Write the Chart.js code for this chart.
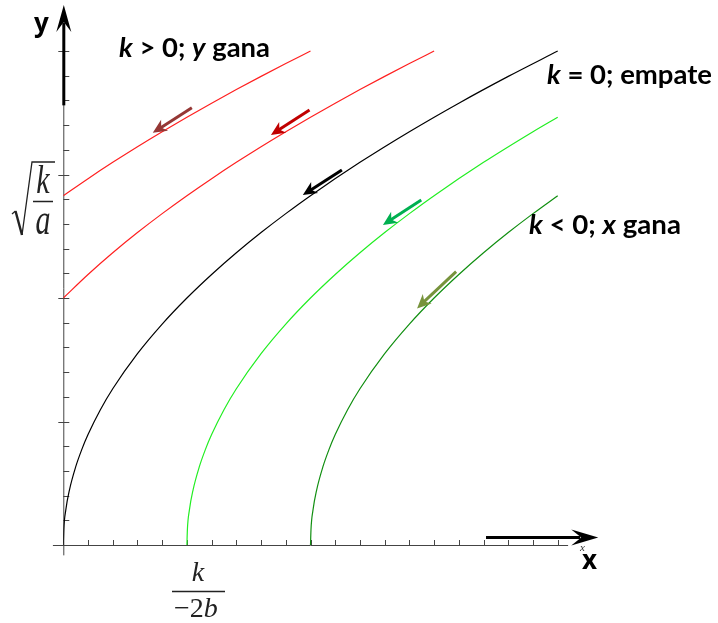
<!DOCTYPE html>
<html>
<head>
<meta charset="utf-8">
<script src="https://cdn.jsdelivr.net/npm/chart.js@4.4.1/dist/chart.umd.min.js"></script>
<style>
  html, body { margin: 0; padding: 0; background: #fff; }
  canvas { display: block; }
</style>
</head>
<body>
<canvas id="lanchester" width="718" height="623"></canvas>
<script>
// Trajectories in the (x, y) plane, one pair of arrays per curve
const redUpperX = [0, 1, 2, 3, 4, 5, 6, 7, 8, 9, 10];
const redUpperY = [14.142, 14.832, 15.492, 16.125, 16.733, 17.321, 17.889, 18.439, 18.974, 19.494, 20];

const redLowerX = [0, 1, 2, 3, 4, 5, 6, 7, 8, 9, 10, 11, 12, 13, 14, 15];
const redLowerY = [10, 10.954, 11.832, 12.649, 13.416, 14.142, 14.832, 15.492, 16.125, 16.733, 17.321, 17.889, 18.439, 18.974, 19.494, 20];

const blackX = [0, 0.02, 0.1, 0.25, 0.5, 0.75, 1, 1.5, 2, 3, 4, 5, 6, 7, 8, 9, 10, 12, 14, 16, 18, 20];
const blackY = [0, 0.632, 1.414, 2.236, 3.162, 3.873, 4.472, 5.477, 6.325, 7.746, 8.944, 10, 10.954, 11.832, 12.649, 13.416, 14.142, 15.492, 16.733, 17.889, 18.974, 20];

const greenX = [5, 5.02, 5.1, 5.25, 5.5, 5.75, 6, 6.5, 7, 8, 9, 10, 11, 12, 13, 14, 15, 17, 19, 20];
const greenY = [0, 0.632, 1.414, 2.236, 3.162, 3.873, 4.472, 5.477, 6.325, 7.746, 8.944, 10, 10.954, 11.832, 12.649, 13.416, 14.142, 15.492, 16.733, 17.321];

const darkGreenX = [10, 10.02, 10.1, 10.25, 10.5, 10.75, 11, 11.5, 12, 13, 14, 15, 16, 17, 18, 19, 20];
const darkGreenY = [0, 0.632, 1.414, 2.236, 3.162, 3.873, 4.472, 5.477, 6.325, 7.746, 8.944, 10, 10.954, 11.832, 12.649, 13.416, 14.142];

// Direction arrows drawn beside each curve (tail -> tip, data units)
const arrowTailX = [5.2, 9.96, 11.27, 14.48, 15.89];
const arrowTailY = [17.70, 17.61, 15.18, 13.97, 11.07];
const arrowTipX = [3.62, 8.40, 9.69, 12.93, 14.31];
const arrowTipY = [16.69, 16.60, 14.17, 12.96, 9.58];
const arrowColors = ['#953735', '#C00000', '#000000', '#00B050', '#77933C'];

// Tick positions on both axes
const axisTicks = [0, 1, 2, 3, 4, 5, 6, 7, 8, 9, 10, 11, 12, 13, 14, 15, 16, 17, 18, 19, 20];

function pts(xs, ys) {
  return xs.map((x, i) => ({ x: x, y: ys[i] }));
}

function curve(xs, ys, color) {
  return {
    data: pts(xs, ys),
    borderColor: color,
    borderWidth: 1.2,
    pointRadius: 0,
    fill: false,
    cubicInterpolationMode: 'monotone'
  };
}

function drawArrowHead(ctx, x0, y0, x1, y1, len, half, notch) {
  const a = Math.atan2(y1 - y0, x1 - x0);
  const c = Math.cos(a), s = Math.sin(a);
  ctx.beginPath();
  ctx.moveTo(x1, y1);
  ctx.lineTo(x1 - len * c + half * s, y1 - len * s - half * c);
  ctx.lineTo(x1 - (len - notch) * c, y1 - (len - notch) * s);
  ctx.lineTo(x1 - len * c - half * s, y1 - len * s + half * c);
  ctx.closePath();
  ctx.fill();
}

// mixed runs of text: [text, font]; optional width stretches the whole line
function drawRuns(ctx, x, y, runs, width) {
  let total = 0;
  for (const [t, f] of runs) {
    ctx.font = f;
    total += ctx.measureText(t).width;
  }
  const sx = width ? width / total : 1;
  ctx.save();
  ctx.translate(x, y);
  ctx.scale(sx, 1);
  let cx = 0;
  for (const [t, f] of runs) {
    ctx.font = f;
    ctx.fillText(t, cx, 0);
    cx += ctx.measureText(t).width;
  }
  ctx.restore();
}

// glyph stretched vertically, baseline at y
function tallText(ctx, t, x, y, sy) {
  ctx.save();
  ctx.translate(x, y);
  ctx.scale(1, sy);
  ctx.fillText(t, 0, 0);
  ctx.restore();
}

const axesPlugin = {
  id: 'axesPlugin',
  beforeDatasetsDraw(chart) {
    const { ctx, scales: { x: xs, y: ys } } = chart;
    const x0 = xs.getPixelForValue(0), y0 = ys.getPixelForValue(0);
    ctx.save();
    ctx.strokeStyle = '#444';
    ctx.lineWidth = 1;
    ctx.beginPath();
    ctx.moveTo(xs.getPixelForValue(-0.42), y0 + 0.5);
    ctx.lineTo(xs.getPixelForValue(20.42), y0 + 0.5);
    ctx.moveTo(x0 + 0.5, ys.getPixelForValue(-0.42));
    ctx.lineTo(x0 + 0.5, ys.getPixelForValue(21.2));
    ctx.stroke();

    ctx.beginPath();
    for (const t of axisTicks) {
      if (t === 0) continue;
      const major = t % 5 === 0;
      const px = Math.round(xs.getPixelForValue(t)) + 0.5;
      ctx.moveTo(px, y0 - 5);
      ctx.lineTo(px, y0 + (major ? 1 : 0));
      const py = Math.round(ys.getPixelForValue(t)) + 0.5;
      ctx.moveTo(x0 + 6, py);
      ctx.lineTo(x0 - (major ? 5 : 0), py);
    }
    ctx.stroke();
    ctx.restore();
  },
  afterDatasetsDraw(chart) {
    const { ctx, scales: { x: xs, y: ys } } = chart;
    ctx.save();

    // trajectory direction arrows
    ctx.lineCap = 'butt';
    arrowTailX.forEach((tx, i) => {
      const ax = xs.getPixelForValue(tx), ay = ys.getPixelForValue(arrowTailY[i]);
      const bx = xs.getPixelForValue(arrowTipX[i]), by = ys.getPixelForValue(arrowTipY[i]);
      const a = Math.atan2(by - ay, bx - ax);
      ctx.strokeStyle = arrowColors[i];
      ctx.fillStyle = arrowColors[i];
      ctx.lineWidth = 3;
      ctx.beginPath();
      ctx.moveTo(ax, ay);
      ctx.lineTo(bx - 9 * Math.cos(a), by - 9 * Math.sin(a));
      ctx.stroke();
      drawArrowHead(ctx, ax, ay, bx, by, 14, 6.5, 4);
    });

    // axis arrows
    ctx.strokeStyle = '#000';
    ctx.fillStyle = '#000';
    ctx.lineWidth = 3;
    const yax = xs.getPixelForValue(0) + 0.5;
    const yTail = ys.getPixelForValue(17.8), yTip = ys.getPixelForValue(21.86);
    ctx.beginPath();
    ctx.moveTo(yax, yTail);
    ctx.lineTo(yax, yTip + 18);
    ctx.stroke();
    drawArrowHead(ctx, yax, yTail, yax, yTip, 27, 7.5, 10);

    const xay = ys.getPixelForValue(0.3);
    const xTail = xs.getPixelForValue(17.1), xTip = xs.getPixelForValue(21.64);
    ctx.beginPath();
    ctx.moveTo(xTail, xay);
    ctx.lineTo(xTip - 18, xay);
    ctx.stroke();
    drawArrowHead(ctx, xTail, xay, xTip, xay, 27, 8, 10);

    // axis names
    ctx.fillStyle = '#000';
    ctx.textBaseline = 'alphabetic';
    ctx.font = 'bold 26px "Open Sans"';
    ctx.fillText('y', 34, 32);
    ctx.fillText('x', 582, 569);
    ctx.fillStyle = '#333';
    ctx.font = 'italic 11px "Liberation Serif"';
    ctx.fillText('x', 580, 551);

    // region captions
    ctx.fillStyle = '#000';
    const B = 'bold 26px Lato', BI = 'italic bold 26px Lato';
    drawRuns(ctx, 119, 57, [['k', BI], [' > 0; ', B], ['y', BI], [' gana', B]], 151);
    drawRuns(ctx, 547, 84, [['k', BI], [' = 0; empate', B]], 165);
    drawRuns(ctx, 529, 234, [['k', BI], [' < 0; ', B], ['x', BI], [' gana', B]], 152);

    // sqrt(k/a) on the y axis
    ctx.strokeStyle = '#222';
    ctx.fillStyle = '#222';
    ctx.lineWidth = 1.3;
    ctx.beginPath();
    ctx.moveTo(12, 214);
    ctx.lineTo(15.5, 211);
    ctx.stroke();
    ctx.lineWidth = 2.4;
    ctx.beginPath();
    ctx.moveTo(15.5, 211);
    ctx.lineTo(22, 235);
    ctx.stroke();
    ctx.lineWidth = 1.3;
    ctx.beginPath();
    ctx.moveTo(22, 235);
    ctx.lineTo(32, 162);
    ctx.lineTo(55, 162);
    ctx.moveTo(33, 201.5);
    ctx.lineTo(53, 201.5);
    ctx.stroke();
    ctx.font = 'italic 30px "Liberation Serif"';
    ctx.textAlign = 'center';
    tallText(ctx, 'k', 43, 193, 1.3);
    tallText(ctx, 'a', 43, 234, 1.45);

    // k / (-2b) on the x axis
    ctx.font = 'italic 28px "Liberation Serif"';
    ctx.fillText('k', 198, 581);
    ctx.beginPath();
    ctx.moveTo(172, 591.5);
    ctx.lineTo(225, 591.5);
    ctx.stroke();
    ctx.textAlign = 'left';
    drawRuns(ctx, 174, 617, [['\u22122', '28px "Liberation Serif"'], ['b', 'italic 28px "Liberation Serif"']]);

    ctx.restore();
  }
};

new Chart(document.getElementById('lanchester'), {
  type: 'line',
  data: {
    datasets: [
      curve(redUpperX, redUpperY, '#ff2020'),
      curve(redLowerX, redLowerY, '#ff2020'),
      curve(blackX, blackY, '#000000'),
      curve(greenX, greenY, '#22ee22'),
      curve(darkGreenX, darkGreenY, '#118f11')
    ]
  },
  options: {
    responsive: false,
    animation: false,
    layout: { padding: { left: 63.3, right: 150.4, top: 11.5, bottom: 78 } },
    scales: {
      x: { type: 'linear', display: false, min: 0, max: 20.4 },
      y: { type: 'linear', display: false, min: 0, max: 21.6 }
    },
    plugins: {
      legend: { display: false },
      tooltip: { enabled: false }
    }
  },
  plugins: [axesPlugin]
});
</script>
</body>
</html>
